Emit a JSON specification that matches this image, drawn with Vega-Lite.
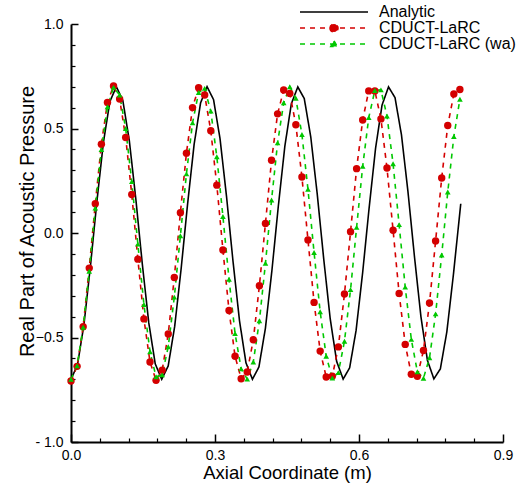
{
 "$schema": "https://vega.github.io/schema/vega-lite/v6.json",
 "width": 432, "height": 418,
 "autosize": {"type": "none"},
 "padding": {"left": 71, "top": 24, "right": 18, "bottom": 52},
 "background": "white",
 "config": {"view": {"stroke": null}, "font": "Liberation Sans"},
 "data": {"values": [
  {"s":"Analytic","x":0,"y":-0.700},{"s":"Analytic","x":0.0135,"y":-0.631},{"s":"Analytic","x":0.027,"y":-0.438},{"s":"Analytic","x":0.0405,"y":-0.158},{"s":"Analytic","x":0.054,"y":0.152},{"s":"Analytic","x":0.0675,"y":0.433},{"s":"Analytic","x":0.081,"y":0.629},{"s":"Analytic","x":0.0945,"y":0.700},{"s":"Analytic","x":0.108,"y":0.634},{"s":"Analytic","x":0.1215,"y":0.442},{"s":"Analytic","x":0.135,"y":0.164},{"s":"Analytic","x":0.1485,"y":-0.147},{"s":"Analytic","x":0.162,"y":-0.429},{"s":"Analytic","x":0.1755,"y":-0.626},{"s":"Analytic","x":0.189,"y":-0.700},{"s":"Analytic","x":0.2025,"y":-0.636},{"s":"Analytic","x":0.216,"y":-0.447},{"s":"Analytic","x":0.2295,"y":-0.170},{"s":"Analytic","x":0.243,"y":0.141},{"s":"Analytic","x":0.2565,"y":0.424},{"s":"Analytic","x":0.27,"y":0.623},{"s":"Analytic","x":0.2835,"y":0.700},{"s":"Analytic","x":0.297,"y":0.638},{"s":"Analytic","x":0.3105,"y":0.451},{"s":"Analytic","x":0.324,"y":0.175},{"s":"Analytic","x":0.3375,"y":-0.135},{"s":"Analytic","x":0.351,"y":-0.419},{"s":"Analytic","x":0.3645,"y":-0.621},{"s":"Analytic","x":0.378,"y":-0.700},{"s":"Analytic","x":0.3915,"y":-0.641},{"s":"Analytic","x":0.405,"y":-0.456},{"s":"Analytic","x":0.4185,"y":-0.181},{"s":"Analytic","x":0.432,"y":0.130},{"s":"Analytic","x":0.4455,"y":0.415},{"s":"Analytic","x":0.459,"y":0.618},{"s":"Analytic","x":0.4725,"y":0.699},{"s":"Analytic","x":0.486,"y":0.643},{"s":"Analytic","x":0.4995,"y":0.460},{"s":"Analytic","x":0.513,"y":0.186},{"s":"Analytic","x":0.5265,"y":-0.124},{"s":"Analytic","x":0.54,"y":-0.410},{"s":"Analytic","x":0.5535,"y":-0.615},{"s":"Analytic","x":0.567,"y":-0.699},{"s":"Analytic","x":0.5805,"y":-0.645},{"s":"Analytic","x":0.594,"y":-0.465},{"s":"Analytic","x":0.6075,"y":-0.192},{"s":"Analytic","x":0.621,"y":0.118},{"s":"Analytic","x":0.6345,"y":0.405},{"s":"Analytic","x":0.648,"y":0.612},{"s":"Analytic","x":0.6615,"y":0.699},{"s":"Analytic","x":0.675,"y":0.648},{"s":"Analytic","x":0.6885,"y":0.469},{"s":"Analytic","x":0.702,"y":0.198},{"s":"Analytic","x":0.7155,"y":-0.112},{"s":"Analytic","x":0.729,"y":-0.400},{"s":"Analytic","x":0.7425,"y":-0.609},{"s":"Analytic","x":0.756,"y":-0.698},{"s":"Analytic","x":0.7695,"y":-0.650},{"s":"Analytic","x":0.783,"y":-0.473},{"s":"Analytic","x":0.7965,"y":-0.203},{"s":"Analytic","x":0.812,"y":0.140},
  {"s":"CDUCT-LaRC","x":0,"y":-0.708},{"s":"CDUCT-LaRC","x":0.0127,"y":-0.638},{"s":"CDUCT-LaRC","x":0.0253,"y":-0.448},{"s":"CDUCT-LaRC","x":0.038,"y":-0.168},{"s":"CDUCT-LaRC","x":0.0506,"y":0.140},{"s":"CDUCT-LaRC","x":0.0633,"y":0.425},{"s":"CDUCT-LaRC","x":0.076,"y":0.625},{"s":"CDUCT-LaRC","x":0.0886,"y":0.703},{"s":"CDUCT-LaRC","x":0.1013,"y":0.641},{"s":"CDUCT-LaRC","x":0.1139,"y":0.457},{"s":"CDUCT-LaRC","x":0.1266,"y":0.184},{"s":"CDUCT-LaRC","x":0.1393,"y":-0.125},{"s":"CDUCT-LaRC","x":0.1519,"y":-0.411},{"s":"CDUCT-LaRC","x":0.1646,"y":-0.617},{"s":"CDUCT-LaRC","x":0.1772,"y":-0.705},{"s":"CDUCT-LaRC","x":0.1899,"y":-0.657},{"s":"CDUCT-LaRC","x":0.2026,"y":-0.483},{"s":"CDUCT-LaRC","x":0.2152,"y":-0.213},{"s":"CDUCT-LaRC","x":0.2279,"y":0.097},{"s":"CDUCT-LaRC","x":0.2405,"y":0.382},{"s":"CDUCT-LaRC","x":0.2532,"y":0.600},{"s":"CDUCT-LaRC","x":0.2659,"y":0.695},{"s":"CDUCT-LaRC","x":0.2785,"y":0.660},{"s":"CDUCT-LaRC","x":0.2912,"y":0.489},{"s":"CDUCT-LaRC","x":0.3038,"y":0.229},{"s":"CDUCT-LaRC","x":0.3165,"y":-0.081},{"s":"CDUCT-LaRC","x":0.3292,"y":-0.371},{"s":"CDUCT-LaRC","x":0.3418,"y":-0.590},{"s":"CDUCT-LaRC","x":0.3545,"y":-0.697},{"s":"CDUCT-LaRC","x":0.3671,"y":-0.665},{"s":"CDUCT-LaRC","x":0.3798,"y":-0.511},{"s":"CDUCT-LaRC","x":0.3925,"y":-0.252},{"s":"CDUCT-LaRC","x":0.4051,"y":0.046},{"s":"CDUCT-LaRC","x":0.4178,"y":0.348},{"s":"CDUCT-LaRC","x":0.4304,"y":0.570},{"s":"CDUCT-LaRC","x":0.4431,"y":0.684},{"s":"CDUCT-LaRC","x":0.4558,"y":0.668},{"s":"CDUCT-LaRC","x":0.4684,"y":0.518},{"s":"CDUCT-LaRC","x":0.4811,"y":0.268},{"s":"CDUCT-LaRC","x":0.4937,"y":-0.033},{"s":"CDUCT-LaRC","x":0.5064,"y":-0.332},{"s":"CDUCT-LaRC","x":0.5191,"y":-0.565},{"s":"CDUCT-LaRC","x":0.5317,"y":-0.689},{"s":"CDUCT-LaRC","x":0.5444,"y":-0.685},{"s":"CDUCT-LaRC","x":0.557,"y":-0.545},{"s":"CDUCT-LaRC","x":0.5697,"y":-0.292},{"s":"CDUCT-LaRC","x":0.5824,"y":0.006},{"s":"CDUCT-LaRC","x":0.595,"y":0.308},{"s":"CDUCT-LaRC","x":0.6077,"y":0.541},{"s":"CDUCT-LaRC","x":0.6203,"y":0.680},{"s":"CDUCT-LaRC","x":0.633,"y":0.680},{"s":"CDUCT-LaRC","x":0.6457,"y":0.546},{"s":"CDUCT-LaRC","x":0.6583,"y":0.311},{"s":"CDUCT-LaRC","x":0.671,"y":0.013},{"s":"CDUCT-LaRC","x":0.6836,"y":-0.289},{"s":"CDUCT-LaRC","x":0.6963,"y":-0.533},{"s":"CDUCT-LaRC","x":0.709,"y":-0.676},{"s":"CDUCT-LaRC","x":0.7216,"y":-0.686},{"s":"CDUCT-LaRC","x":0.7343,"y":-0.562},{"s":"CDUCT-LaRC","x":0.7469,"y":-0.335},{"s":"CDUCT-LaRC","x":0.7596,"y":-0.038},{"s":"CDUCT-LaRC","x":0.7723,"y":0.263},{"s":"CDUCT-LaRC","x":0.7849,"y":0.514},{"s":"CDUCT-LaRC","x":0.7976,"y":0.665},{"s":"CDUCT-LaRC","x":0.8102,"y":0.687},
  {"s":"CDUCT-LaRC (wa)","x":0,"y":-0.700},{"s":"CDUCT-LaRC (wa)","x":0.0127,"y":-0.635},{"s":"CDUCT-LaRC (wa)","x":0.0253,"y":-0.451},{"s":"CDUCT-LaRC (wa)","x":0.038,"y":-0.183},{"s":"CDUCT-LaRC (wa)","x":0.0506,"y":0.119},{"s":"CDUCT-LaRC (wa)","x":0.0633,"y":0.399},{"s":"CDUCT-LaRC (wa)","x":0.076,"y":0.604},{"s":"CDUCT-LaRC (wa)","x":0.0886,"y":0.697},{"s":"CDUCT-LaRC (wa)","x":0.1013,"y":0.660},{"s":"CDUCT-LaRC (wa)","x":0.1139,"y":0.500},{"s":"CDUCT-LaRC (wa)","x":0.1266,"y":0.246},{"s":"CDUCT-LaRC (wa)","x":0.1393,"y":-0.053},{"s":"CDUCT-LaRC (wa)","x":0.1519,"y":-0.342},{"s":"CDUCT-LaRC (wa)","x":0.1646,"y":-0.568},{"s":"CDUCT-LaRC (wa)","x":0.1772,"y":-0.688},{"s":"CDUCT-LaRC (wa)","x":0.1899,"y":-0.679},{"s":"CDUCT-LaRC (wa)","x":0.2026,"y":-0.544},{"s":"CDUCT-LaRC (wa)","x":0.2152,"y":-0.307},{"s":"CDUCT-LaRC (wa)","x":0.2279,"y":-0.013},{"s":"CDUCT-LaRC (wa)","x":0.2405,"y":0.283},{"s":"CDUCT-LaRC (wa)","x":0.2532,"y":0.527},{"s":"CDUCT-LaRC (wa)","x":0.2659,"y":0.672},{"s":"CDUCT-LaRC (wa)","x":0.2785,"y":0.692},{"s":"CDUCT-LaRC (wa)","x":0.2912,"y":0.583},{"s":"CDUCT-LaRC (wa)","x":0.3038,"y":0.365},{"s":"CDUCT-LaRC (wa)","x":0.3165,"y":0.079},{"s":"CDUCT-LaRC (wa)","x":0.3292,"y":-0.221},{"s":"CDUCT-LaRC (wa)","x":0.3418,"y":-0.481},{"s":"CDUCT-LaRC (wa)","x":0.3545,"y":-0.650},{"s":"CDUCT-LaRC (wa)","x":0.3671,"y":-0.699},{"s":"CDUCT-LaRC (wa)","x":0.3798,"y":-0.617},{"s":"CDUCT-LaRC (wa)","x":0.3925,"y":-0.420},{"s":"CDUCT-LaRC (wa)","x":0.4051,"y":-0.145},{"s":"CDUCT-LaRC (wa)","x":0.4178,"y":0.158},{"s":"CDUCT-LaRC (wa)","x":0.4304,"y":0.431},{"s":"CDUCT-LaRC (wa)","x":0.4431,"y":0.623},{"s":"CDUCT-LaRC (wa)","x":0.4558,"y":0.700},{"s":"CDUCT-LaRC (wa)","x":0.4684,"y":0.645},{"s":"CDUCT-LaRC (wa)","x":0.4811,"y":0.471},{"s":"CDUCT-LaRC (wa)","x":0.4937,"y":0.209},{"s":"CDUCT-LaRC (wa)","x":0.5064,"y":-0.093},{"s":"CDUCT-LaRC (wa)","x":0.5191,"y":-0.377},{"s":"CDUCT-LaRC (wa)","x":0.5317,"y":-0.590},{"s":"CDUCT-LaRC (wa)","x":0.5444,"y":-0.694},{"s":"CDUCT-LaRC (wa)","x":0.557,"y":-0.668},{"s":"CDUCT-LaRC (wa)","x":0.5697,"y":-0.518},{"s":"CDUCT-LaRC (wa)","x":0.5824,"y":-0.271},{"s":"CDUCT-LaRC (wa)","x":0.595,"y":0.027},{"s":"CDUCT-LaRC (wa)","x":0.6077,"y":0.319},{"s":"CDUCT-LaRC (wa)","x":0.6203,"y":0.552},{"s":"CDUCT-LaRC (wa)","x":0.633,"y":0.682},{"s":"CDUCT-LaRC (wa)","x":0.6457,"y":0.685},{"s":"CDUCT-LaRC (wa)","x":0.6583,"y":0.560},{"s":"CDUCT-LaRC (wa)","x":0.671,"y":0.331},{"s":"CDUCT-LaRC (wa)","x":0.6836,"y":0.040},{"s":"CDUCT-LaRC (wa)","x":0.6963,"y":-0.259},{"s":"CDUCT-LaRC (wa)","x":0.709,"y":-0.509},{"s":"CDUCT-LaRC (wa)","x":0.7216,"y":-0.664},{"s":"CDUCT-LaRC (wa)","x":0.7343,"y":-0.695},{"s":"CDUCT-LaRC (wa)","x":0.7469,"y":-0.597},{"s":"CDUCT-LaRC (wa)","x":0.7596,"y":-0.387},{"s":"CDUCT-LaRC (wa)","x":0.7723,"y":-0.105},{"s":"CDUCT-LaRC (wa)","x":0.7849,"y":0.196},{"s":"CDUCT-LaRC (wa)","x":0.7976,"y":0.461},{"s":"CDUCT-LaRC (wa)","x":0.8102,"y":0.640}
 ]},
 "resolve": {"axis": {"x": "independent", "y": "independent"}},
 "layer": [
  {
   "mark": {"type": "line", "strokeWidth": 1.6},
   "encoding": {
    "x": {"field": "x", "type": "quantitative", "scale": {"domain": [0, 0.9], "nice": false, "zero": false},
     "axis": {"orient": "bottom", "values": [0, 0.3, 0.6, 0.9], "format": ".1f", "ticks": false,
      "grid": true, "gridColor": "black", "gridOpacity": 1, "gridWidth": 1.5, "gridDash": [8, 3000], "gridDashOffset": 2598,
      "domain": true, "domainColor": "black", "domainWidth": 2,
      "labelFontSize": 14, "labelColor": "black", "labelBaseline": "alphabetic", "labelPadding": 17, "labelFlush": false, "labelOverlap": false,
      "title": "Axial Coordinate (m)", "titleFontSize": 18.5, "titleFontWeight": "normal", "titleColor": "black", "titleX": 216, "titleY": 36.5, "titleBaseline": "alphabetic"}},
    "y": {"field": "y", "type": "quantitative", "scale": {"domain": [-1, 1], "nice": false, "zero": false},
     "axis": {"orient": "left", "values": [-1, -0.5, 0, 0.5, 1], "labelExpr": "datum.value == -1 ? '- 1.0' : format(datum.value, '.1f')", "ticks": false,
      "grid": true, "gridColor": "black", "gridOpacity": 1, "gridWidth": 1.5, "gridDash": [7, 3000],
      "domain": true, "domainColor": "black", "domainWidth": 2,
      "labelFontSize": 14, "labelColor": "black", "labelPadding": 8, "labelFlush": false, "labelOverlap": false,
      "title": "Real Part of Acoustic Pressure", "titleFontSize": 20, "titleFontWeight": "normal", "titleColor": "black", "titleX": -38, "titleY": 197, "titleBaseline": "alphabetic", "titleAngle": 270}},
    "color": {"field": "s", "type": "nominal",
     "scale": {"domain": ["Analytic", "CDUCT-LaRC", "CDUCT-LaRC (wa)"], "range": ["#000000", "#d40000", "#00c800"]},
     "legend": {"orient": "none", "legendX": 255, "legendY": -20, "title": null, "padding": 0,
      "symbolType": "M-8.5,0H8.5", "symbolSize": 64, "symbolStrokeWidth": 1.6,
      "labelFontSize": 16, "labelColor": "black", "labelOffset": 37, "rowPadding": -2, "labelLimit": 300,
      "encode": {"symbols": {"update": {
        "shape": {"signal": "datum.value == 'Analytic' ? 'M-8.5,0H8.5' : datum.value == 'CDUCT-LaRC' ? 'M-8.5,0H8.5M-1,0A1,1,0,1,0,1,0A1,1,0,1,0,-1,0Z' : 'M-8.5,0H8.5M0,-0.8L0.8,0.6L-0.8,0.6Z'"},
        "fill": {"signal": "scale('color', datum.value)"}}}}}},
    "strokeDash": {"field": "s", "type": "nominal",
     "scale": {"domain": ["Analytic", "CDUCT-LaRC", "CDUCT-LaRC (wa)"], "range": [[1, 0], [5, 5], [5, 5]]}}
   }
  },
  {
   "transform": [{"filter": "datum.s == 'CDUCT-LaRC'"}],
   "mark": {"type": "point", "shape": "circle", "filled": true, "size": 55, "color": "#d40000", "opacity": 1},
   "encoding": {
    "x": {"field": "x", "type": "quantitative",
     "axis": {"orient": "bottom", "values": [0.06, 0.12, 0.18, 0.24, 0.36, 0.42, 0.48, 0.54, 0.66, 0.72, 0.78, 0.84], "ticks": false, "labels": false, "domain": false, "title": null,
      "grid": true, "gridColor": "black", "gridOpacity": 1, "gridWidth": 1.2, "gridDash": [4, 3000], "gridDashOffset": 2590}},
    "y": {"field": "y", "type": "quantitative",
     "axis": {"orient": "left", "values": [-0.9, -0.8, -0.7, -0.6, -0.4, -0.3, -0.2, -0.1, 0.1, 0.2, 0.3, 0.4, 0.6, 0.7, 0.8, 0.9], "ticks": false, "labels": false, "domain": false, "title": null,
      "grid": true, "gridColor": "black", "gridOpacity": 1, "gridWidth": 1.2, "gridDash": [4, 3000]}}
   }
  },
  {
   "transform": [{"filter": "datum.s == 'CDUCT-LaRC (wa)'"}],
   "mark": {"type": "point", "shape": "triangle-up", "filled": true, "size": 32, "color": "#00c800", "opacity": 1},
   "encoding": {
    "x": {"field": "x", "type": "quantitative", "axis": null},
    "y": {"field": "y", "type": "quantitative", "axis": null}
   }
  }
 ]
}
